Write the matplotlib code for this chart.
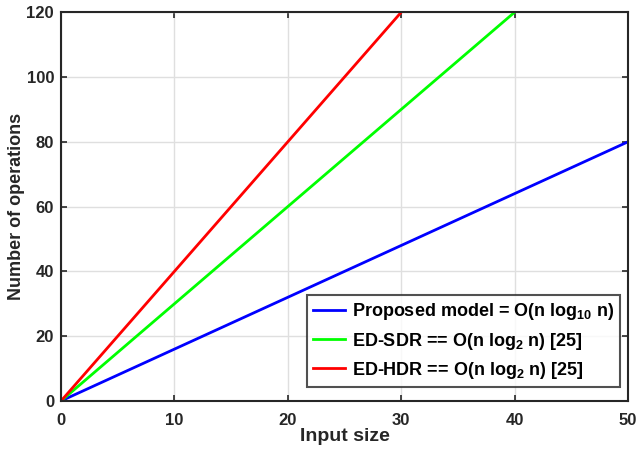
import matplotlib
matplotlib.use("Agg")
import matplotlib.pyplot as plt

input_size = [0, 10, 20, 30, 40, 50]
proposed = [0, 16, 32, 48, 64, 80]
ed_sdr = [0, 30, 60, 90, 120, 150]
ed_hdr = [0, 40, 80, 120, 160, 200]
labels = ["Proposed model = O(n log$_{\\mathbf{10}}$ n)",
          "ED-SDR == O(n log$_{\\mathbf{2}}$ n) [25]",
          "ED-HDR == O(n log$_{\\mathbf{2}}$ n) [25]"]
xticks = [0, 10, 20, 30, 40, 50]
yticks = [0, 20, 40, 60, 80, 100, 120]

plt.rcParams['font.family'] = ['Liberation Sans', 'DejaVu Sans']
plt.rcParams['font.weight'] = 'bold'
plt.rcParams['mathtext.fontset'] = 'custom'
plt.rcParams['mathtext.rm'] = 'Liberation Sans:bold'
plt.rcParams['mathtext.bf'] = 'Liberation Sans:bold'
plt.rcParams['mathtext.default'] = 'bf'

fig = plt.figure(figsize=(6.39, 4.49), dpi=100)
ax = fig.add_axes([0.0955, 0.107, 0.8875, 0.866])

ax.plot(input_size, proposed, color='#0000ff', lw=2, label=labels[0])
ax.plot(input_size, ed_sdr, color='#00ff00', lw=2, label=labels[1])
ax.plot(input_size, ed_hdr, color='#ff0000', lw=2, label=labels[2])

ax.set_xlim(0, 50)
ax.set_ylim(0, 120)
ax.set_xticks(xticks)
ax.set_yticks(yticks)
ax.grid(True, color='#dfdfdf', lw=1)
ax.set_axisbelow(True)
for s in ax.spines.values():
    s.set_color('#262626')
    s.set_linewidth(1.5)
ax.tick_params(direction='in', top=True, right=True, length=4, width=1.2,
               colors='#262626', labelsize=12, labelcolor='#262626', pad=5)
ax.tick_params(axis='x', pad=9)
for lab in ax.get_xticklabels() + ax.get_yticklabels():
    lab.set_fontweight('bold')
ax.set_xlabel('Input size', fontsize=14, fontweight='bold', color='#262626', labelpad=0)
ax.set_ylabel('Number of operations', fontsize=13, fontweight='bold', color='#262626', labelpad=1)

leg = ax.legend(loc='lower right', bbox_to_anchor=(0.986, 0.036), borderaxespad=0,
                fontsize=13, frameon=True, fancybox=False, edgecolor='#262626',
                handlelength=1.8, handletextpad=0.35, borderpad=0.35, labelspacing=0.45)
leg.get_frame().set_linewidth(1.5)
for t in leg.get_texts():
    t.set_fontweight('bold')
    t.set_color('#000000')

fig.savefig('out.png', dpi=100)
